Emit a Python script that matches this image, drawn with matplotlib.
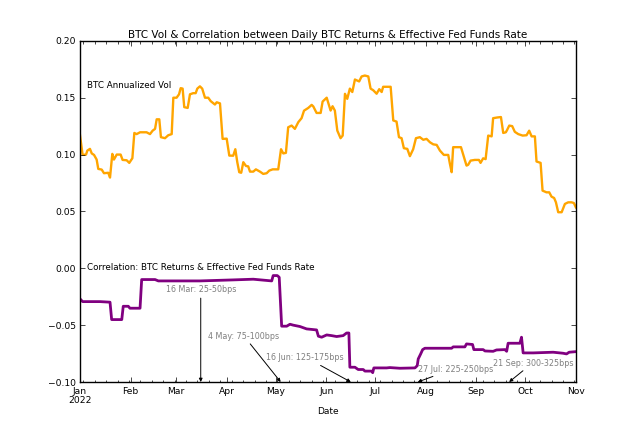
import matplotlib
matplotlib.use("Agg")
import matplotlib.pyplot as plt
import matplotlib.dates as mdates
import pandas as pd

# ── data (days since 2022-01-01, value) ──
START = pd.Timestamp("2022-01-01")

vol_day = [0, 1.6, 3.7, 4.5, 6.1, 7.2, 8.6, 10.2, 11.2, 13.3, 14.7, 17.3, 18.4,
           19.8, 20.8, 22.5, 24.9, 26.1, 28.6, 30.2, 32.1, 33.3, 34.7, 36.8,
           40.8, 42.9, 44.5, 46, 47, 48.6, 49.6, 52.1, 54.1, 56.2, 57.2, 59.2,
           60.7, 61.7, 62.9, 63.9, 66, 67.4, 69.4, 70.9, 71.9, 73.5, 74.9, 76.6,
           78.6, 80.1, 82.7, 83.8, 85.8, 87.4, 89.9, 91.5, 93.9, 95.2, 96.4,
           97.6, 98.8, 100.1, 101.7, 103.1, 104.2, 106.2, 107.8, 110.3, 112.3,
           114.4, 116, 118.1, 121.5, 123.2, 124.6, 126.2, 127.6, 129.7, 131.7,
           133.8, 135.8, 137.3, 139.9, 142, 143, 145, 147.5, 148.7, 151.2,
           153.6, 154.8, 156.2, 157.7, 159.7, 161, 162.4, 163.8, 165.4, 166.9,
           168.5, 171.1, 172.6, 174.6, 176.7, 178.1, 179.7, 181.8, 183.4, 184.9,
           185.8, 188.3, 190.4, 192, 194, 195.5, 197.1, 198.5, 200.6, 202.2,
           204.2, 205.9, 208.3, 210.4, 212.4, 214.5, 216.5, 218.6, 220.6, 223,
           225.7, 226.7, 227.8, 228.7, 230.8, 233.5, 234.9, 236.9, 237.9, 239.4,
           242, 244.5, 245.5, 247.1, 248.6, 250.2, 252.3, 253.2, 255.7, 258,
           259.4, 261, 261.8, 263.1, 264.9, 266.5, 268.6, 271.3, 273.7, 275.3,
           276.8, 278.8, 279.8, 282.3, 283.5, 285.9, 287.6, 289, 290.6, 291.7,
           293.1, 295.2, 297.2, 299.2, 301.3, 302.7, 303.9]
vol_val = [0.117, 0.0997, 0.100, 0.1035, 0.105, 0.101, 0.0997, 0.0956, 0.0874,
           0.0868, 0.0836, 0.084, 0.0798, 0.1006, 0.0956, 0.100, 0.100, 0.0953,
           0.095, 0.0927, 0.0968, 0.119, 0.118, 0.1196, 0.1196, 0.118, 0.121,
           0.1226, 0.131, 0.131, 0.1153, 0.1144, 0.117, 0.118, 0.150, 0.150,
           0.153, 0.1584, 0.158, 0.1417, 0.141, 0.153, 0.154, 0.154, 0.158,
           0.160, 0.158, 0.150, 0.150, 0.147, 0.144, 0.146, 0.145, 0.1138,
           0.114, 0.0991, 0.099, 0.1047, 0.0933, 0.0845, 0.084, 0.0933, 0.090,
           0.0896, 0.085, 0.085, 0.087, 0.085, 0.083, 0.0836, 0.0859, 0.087,
           0.087, 0.1047, 0.101, 0.1015, 0.124, 0.1255, 0.1226, 0.1285, 0.132,
           0.1386, 0.141, 0.1437, 0.1423, 0.1366, 0.1366, 0.1466, 0.150, 0.1387,
           0.1425, 0.1387, 0.1211, 0.1144, 0.1167, 0.1534, 0.149, 0.158, 0.155,
           0.166, 0.1643, 0.1687, 0.1695, 0.1687, 0.158, 0.1566, 0.1535, 0.1575,
           0.155, 0.1596, 0.1596, 0.1596, 0.130, 0.129, 0.1153, 0.1144, 0.1056,
           0.105, 0.0986, 0.1047, 0.1144, 0.1153, 0.113, 0.1138, 0.1108, 0.109,
           0.1085, 0.1035, 0.0997, 0.0997, 0.092, 0.0845, 0.1065, 0.1065,
           0.1065, 0.0997, 0.0903, 0.091, 0.0947, 0.0953, 0.0953, 0.0927,
           0.0967, 0.096, 0.1167, 0.116, 0.132, 0.1326, 0.133, 0.119, 0.1196,
           0.1217, 0.1255, 0.125, 0.120, 0.118, 0.1167, 0.117, 0.121, 0.116,
           0.116, 0.0939, 0.0927, 0.0683, 0.0668, 0.0668, 0.063, 0.0618, 0.058,
           0.0493, 0.0493, 0.0566, 0.058, 0.058, 0.0574, 0.0536]

corr_day = [0, 1.6, 12.3, 18.4, 19.4, 25.6, 26.5, 29.6, 30.6, 36.8, 37.8, 46,
            48, 73.5, 93.9, 106.2, 117.5, 118.4, 120.9, 122.1, 123.6, 126.7,
            128.7, 130.7, 134.8, 138.9, 145, 146.1, 148.1, 151.2, 154.2, 157.3,
            161.3, 163.4, 164.8, 165.4, 168.5, 170.5, 173.6, 174.6, 178.7,
            179.4, 180.1, 187.9, 189.9, 196.1, 205.3, 206.7, 207.3, 208.8, 210,
            211.4, 216.5, 227.8, 228.7, 235.9, 236.9, 240.6, 241.4, 247.1,
            248.2, 253.2, 255.3, 260.4, 261.5, 262.4, 269.6, 270.6, 271.6,
            277.8, 290, 296.1, 298.2, 299.8, 303.9]
corr_val = [-0.0269, -0.0293, -0.0293, -0.0298, -0.0451, -0.0451, -0.0334,
            -0.0334, -0.0351, -0.0351, -0.0099, -0.0099, -0.0111, -0.0111,
            -0.0102, -0.0096, -0.0111, -0.0064, -0.0064, -0.0079, -0.0509,
            -0.0509, -0.0492, -0.050, -0.0512, -0.0533, -0.0542, -0.0597,
            -0.0606, -0.0586, -0.0592, -0.060, -0.0592, -0.0569, -0.0569,
            -0.087, -0.087, -0.089, -0.089, -0.0904, -0.0904, -0.0918, -0.0876,
            -0.0876, -0.0873, -0.0879, -0.0876, -0.0856, -0.0797, -0.0753,
            -0.0715, -0.0703, -0.0703, -0.0703, -0.0691, -0.0691, -0.0665,
            -0.067, -0.0715, -0.0715, -0.0727, -0.073, -0.0718, -0.0715, -0.073,
            -0.0659, -0.0659, -0.0606, -0.0744, -0.0744, -0.0738, -0.0747,
            -0.0753, -0.0738, -0.0733]

# Fed hikes: label, date, text anchor (date, y)
hike_labels = ["16 Mar: 25-50bps", "4 May: 75-100bps", "16 Jun: 125-175bps",
               "27 Jul: 225-250bps", "21 Sep: 300-325bps"]
hike_dates = ["2022-03-16", "2022-05-04", "2022-06-16", "2022-07-27", "2022-09-21"]
hike_text_dates = ["2022-03-16", "2022-04-11", "2022-05-19", "2022-08-19", "2022-10-06"]
hike_text_y = [-0.0182, -0.0587, -0.078, -0.0878, -0.0825]


def to_dates(days):
    return START + pd.to_timedelta(days, unit="D")


plt.style.use("classic")
plt.rcParams["font.family"] = ["DejaVu Sans"]
plt.rcParams["font.size"] = 6.5

fig, ax = plt.subplots(figsize=(6.4, 4.27), dpi=100)
fig.patch.set_facecolor("white")
fig.subplots_adjust(left=0.125, right=0.9, bottom=0.103, top=0.902)

ax.plot(to_dates(vol_day), vol_val, color="#FFA500", linewidth=1.7)
ax.plot(to_dates(corr_day), corr_val, color="#800080", linewidth=2.0)

ax.set_ylim(-0.1, 0.2)
ax.set_xlim(pd.Timestamp("2022-01-01"), pd.Timestamp("2022-11-01"))
ax.set_yticks([-0.1, -0.05, 0.0, 0.05, 0.1, 0.15, 0.2])
ax.yaxis.set_major_formatter(plt.FuncFormatter(
    lambda v, _: f"{v:.2f}".replace("-", "\u2212") if abs(v) > 1e-9 else "0.00"))

ax.xaxis.set_major_locator(mdates.MonthLocator())
ax.xaxis.set_minor_locator(mdates.WeekdayLocator(byweekday=mdates.MO))
ax.xaxis.set_major_formatter(plt.FuncFormatter(
    lambda x, _: mdates.num2date(x).strftime("%b\n%Y" if mdates.num2date(x).month == 1 else "%b")))
ax.tick_params(axis="both", which="major", labelsize=6.6, length=3.5, pad=3)
ax.tick_params(axis="both", which="minor", length=1.8)
for t in ax.get_xticklabels():
    t.set_linespacing(1.0)

ax.text(pd.Timestamp("2022-01-05"), 0.162, "BTC Annualized Vol", fontsize=6.3, va="center")
ax.text(pd.Timestamp("2022-01-05"), 0.002, "Correlation: BTC Returns & Effective Fed Funds Rate",
        fontsize=6.3, va="center")

for lbl, d, td, ty in zip(hike_labels, hike_dates, hike_text_dates, hike_text_y):
    ax.annotate(lbl, xy=(pd.Timestamp(d), -0.1), xytext=(pd.Timestamp(td), ty),
                ha="center", va="center", fontsize=5.8, color="gray",
                arrowprops=dict(arrowstyle="-|>", color="black", lw=0.7,
                                mutation_scale=5, shrinkA=1, shrinkB=0))

ax.set_title("BTC Vol & Correlation between Daily BTC Returns & Effective Fed Funds Rate",
             fontsize=7.5, pad=2.5)
ax.set_xlabel("Date", fontsize=6.5, labelpad=1)

fig.savefig("out.png", dpi=100, facecolor="white")
